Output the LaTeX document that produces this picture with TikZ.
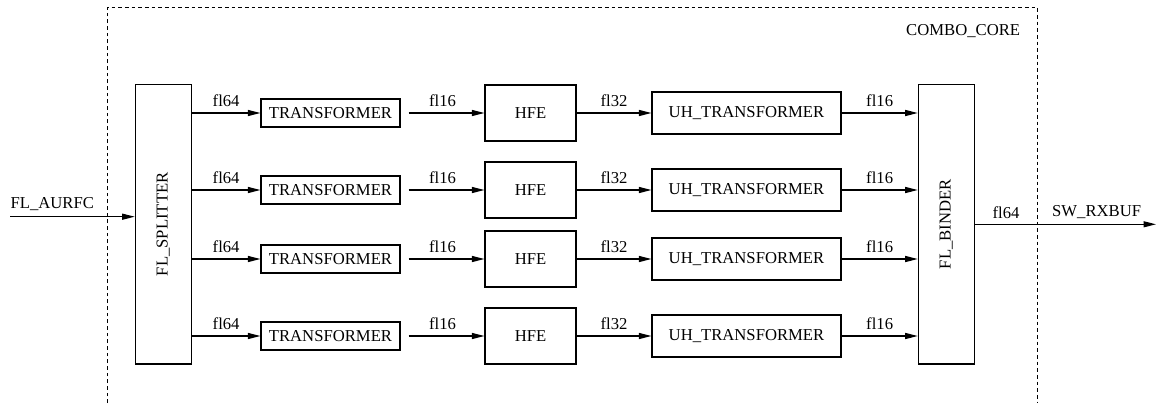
\documentclass[tikz,border=0pt]{standalone}
\usepackage{fontspec}
\setmainfont{Liberation Serif}
\usepackage{tikz}
\usetikzlibrary{positioning, arrows.meta, calc}

\begin{document}
\begin{tikzpicture}[x=0.6pt, y=-0.6pt, >={Triangle[length=7.5pt, width=3.6pt]},
    every node/.style={font=\normalsize},
    blk/.style={draw, rectangle, line width=0.7pt, inner sep=0pt},
    tallblk/.style={blk, minimum width=33.6pt, minimum height=167.6pt},
    trblk/.style={blk, minimum width=83.4pt, minimum height=16.8pt},
    hfeblk/.style={blk, minimum width=54.6pt, minimum height=33.6pt},
    uhblk/.style={blk, minimum width=113.4pt, minimum height=25.2pt},
    link/.style={->, line width=0.7pt},
    lbl/.style={above, midway}]
    \useasboundingbox (0,0) rectangle (1157,403);

    % core boundary (open at the bottom)
    \draw [dash pattern=on 2.2pt off 1.8pt, line width=0.6pt] (107.3,403) -- (107.3,7.3) -- (1037.3,7.3) -- (1037.3,403);
    \node [anchor=east] (core) at (1026,31) {COMBO\_CORE};

    \node [tallblk] (splitter) at (163.3,224.3) {\rotatebox{90}{FL\_SPLITTER}};
    \node [tallblk] (binder) at (946.3,224.3) {\rotatebox{90}{FL\_BINDER}};

    \node [trblk] (tr1) at (330.5,113) {TRANSFORMER};
    \node [trblk] (tr2) at (330.5,190) {TRANSFORMER};
    \node [trblk] (tr3) at (330.5,259) {TRANSFORMER};
    \node [trblk] (tr4) at (330.5,336) {TRANSFORMER};

    \node [hfeblk] (hfe1) at (530.5,113) {HFE};
    \node [hfeblk] (hfe2) at (530.5,190) {HFE};
    \node [hfeblk] (hfe3) at (530.5,259) {HFE};
    \node [hfeblk] (hfe4) at (530.5,336) {HFE};

    \node [uhblk] (uh1) at (746.5,113) {UH\_TRANSFORMER};
    \node [uhblk] (uh2) at (746.5,190) {UH\_TRANSFORMER};
    \node [uhblk] (uh3) at (746.5,259) {UH\_TRANSFORMER};
    \node [uhblk] (uh4) at (746.5,336) {UH\_TRANSFORMER};

    \coordinate (src) at (10,216.7);
    \coordinate (coreout) at (1037.3,224.3);
    \coordinate (sink) at (1156,224.3);

    % input / output
    \draw [link] (src) node [above right, inner xsep=0pt] {FL\_AURFC} -- (src -| splitter.west);
    \draw [line width=0.7pt] (binder.east) -- node [lbl] {fl64} (coreout);
    \draw [link] (coreout) -- node [lbl] {SW\_RXBUF} (sink);

    % rows
    \draw [link] (splitter.east |- tr1) -- node [lbl] {fl64} (tr1);
    \draw [link] (splitter.east |- tr2) -- node [lbl] {fl64} (tr2);
    \draw [link] (splitter.east |- tr3) -- node [lbl] {fl64} (tr3);
    \draw [link] (splitter.east |- tr4) -- node [lbl] {fl64} (tr4);

    \draw [link, shorten <=4.8pt] (tr1) -- node [lbl] {fl16} (hfe1);
    \draw [link, shorten <=4.8pt] (tr2) -- node [lbl] {fl16} (hfe2);
    \draw [link, shorten <=4.8pt] (tr3) -- node [lbl] {fl16} (hfe3);
    \draw [link, shorten <=4.8pt] (tr4) -- node [lbl] {fl16} (hfe4);

    \draw [link] (hfe1) -- node [lbl] {fl32} (uh1);
    \draw [link] (hfe2) -- node [lbl] {fl32} (uh2);
    \draw [link] (hfe3) -- node [lbl] {fl32} (uh3);
    \draw [link] (hfe4) -- node [lbl] {fl32} (uh4);

    \draw [link] (uh1) -- node [lbl] {fl16} (binder.west |- uh1);
    \draw [link] (uh2) -- node [lbl] {fl16} (binder.west |- uh2);
    \draw [link] (uh3) -- node [lbl] {fl16} (binder.west |- uh3);
    \draw [link] (uh4) -- node [lbl] {fl16} (binder.west |- uh4);
\end{tikzpicture}
\end{document}
